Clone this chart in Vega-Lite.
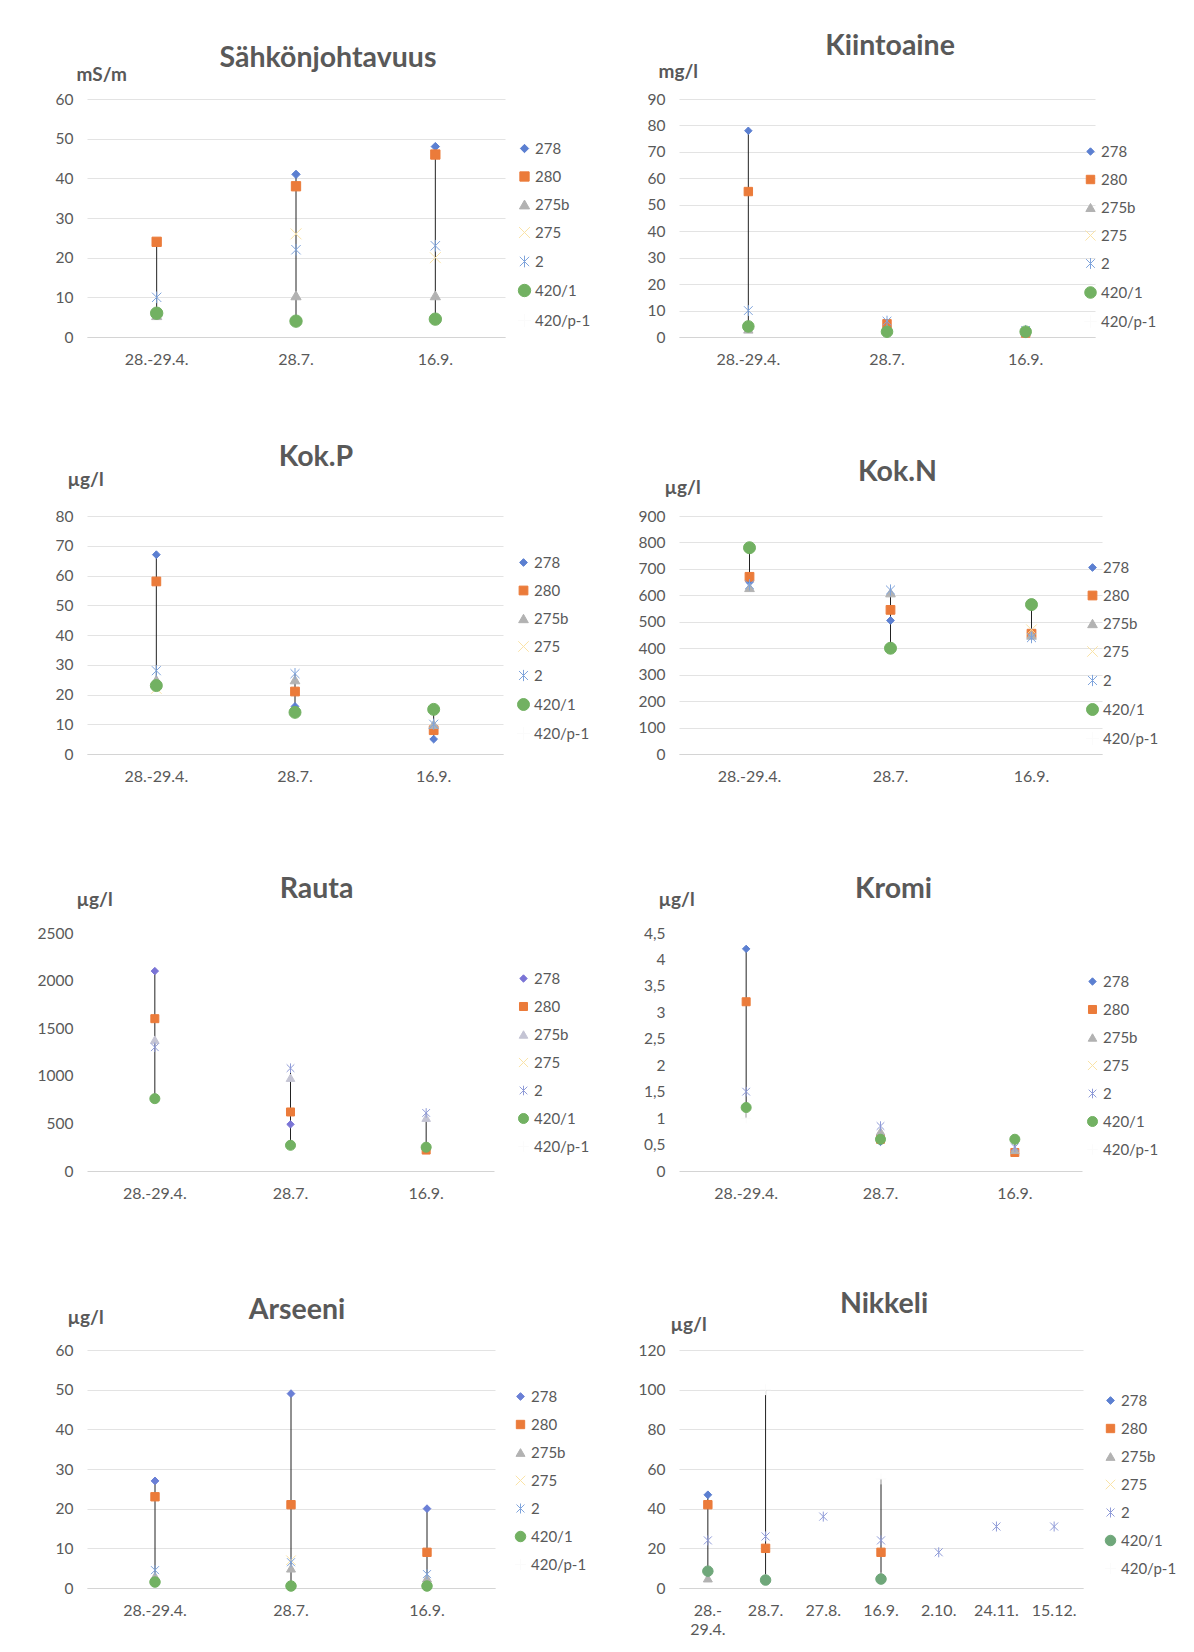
{
"$schema": "https://vega.github.io/schema/vega-lite/v6.json",
"padding": {"left": 37, "top": 31, "right": 5, "bottom": 5},
"datasets": {"d": [
{"p":1,"d":"28.-29.4.","s":"280","v":24},{"p":1,"d":"28.-29.4.","s":"275b","v":5.5},{"p":1,"d":"28.-29.4.","s":"2","v":10},{"p":1,"d":"28.-29.4.","s":"420/1","v":6},
{"p":1,"d":"28.7.","s":"278","v":41},{"p":1,"d":"28.7.","s":"280","v":38},{"p":1,"d":"28.7.","s":"275b","v":10.5},{"p":1,"d":"28.7.","s":"275","v":26},{"p":1,"d":"28.7.","s":"2","v":22},{"p":1,"d":"28.7.","s":"420/1","v":4},
{"p":1,"d":"16.9.","s":"278","v":48},{"p":1,"d":"16.9.","s":"280","v":46},{"p":1,"d":"16.9.","s":"275b","v":10.5},{"p":1,"d":"16.9.","s":"275","v":20},{"p":1,"d":"16.9.","s":"2","v":23},{"p":1,"d":"16.9.","s":"420/1","v":4.5},
{"p":2,"d":"28.-29.4.","s":"278","v":78},{"p":2,"d":"28.-29.4.","s":"280","v":55},{"p":2,"d":"28.-29.4.","s":"275b","v":3},{"p":2,"d":"28.-29.4.","s":"2","v":10},{"p":2,"d":"28.-29.4.","s":"420/1","v":4},
{"p":2,"d":"28.7.","s":"278","v":4},{"p":2,"d":"28.7.","s":"280","v":5},{"p":2,"d":"28.7.","s":"275b","v":3},{"p":2,"d":"28.7.","s":"2","v":6},{"p":2,"d":"28.7.","s":"420/1","v":2},
{"p":2,"d":"16.9.","s":"278","v":1},{"p":2,"d":"16.9.","s":"280","v":1.5},{"p":2,"d":"16.9.","s":"275b","v":2},{"p":2,"d":"16.9.","s":"2","v":2.5},{"p":2,"d":"16.9.","s":"420/1","v":2},
{"p":3,"d":"28.-29.4.","s":"278","v":67},{"p":3,"d":"28.-29.4.","s":"280","v":58},{"p":3,"d":"28.-29.4.","s":"275b","v":25},{"p":3,"d":"28.-29.4.","s":"275","v":22},{"p":3,"d":"28.-29.4.","s":"2","v":28},{"p":3,"d":"28.-29.4.","s":"420/1","v":23},
{"p":3,"d":"28.7.","s":"278","v":16},{"p":3,"d":"28.7.","s":"280","v":21},{"p":3,"d":"28.7.","s":"275b","v":25},{"p":3,"d":"28.7.","s":"2","v":27},{"p":3,"d":"28.7.","s":"420/1","v":14},
{"p":3,"d":"16.9.","s":"278","v":5},{"p":3,"d":"16.9.","s":"280","v":8},{"p":3,"d":"16.9.","s":"275b","v":10},{"p":3,"d":"16.9.","s":"2","v":10},{"p":3,"d":"16.9.","s":"420/1","v":15},
{"p":4,"d":"28.-29.4.","s":"278","v":650},{"p":4,"d":"28.-29.4.","s":"280","v":670},{"p":4,"d":"28.-29.4.","s":"275b","v":630},{"p":4,"d":"28.-29.4.","s":"2","v":640},{"p":4,"d":"28.-29.4.","s":"420/1","v":780},
{"p":4,"d":"28.7.","s":"278","v":505},{"p":4,"d":"28.7.","s":"280","v":545},{"p":4,"d":"28.7.","s":"275b","v":610},{"p":4,"d":"28.7.","s":"2","v":620},{"p":4,"d":"28.7.","s":"420/1","v":400},
{"p":4,"d":"16.9.","s":"278","v":460},{"p":4,"d":"16.9.","s":"280","v":455},{"p":4,"d":"16.9.","s":"275b","v":450},{"p":4,"d":"16.9.","s":"275","v":470},{"p":4,"d":"16.9.","s":"2","v":440},{"p":4,"d":"16.9.","s":"420/1","v":565},
{"p":5,"d":"28.-29.4.","s":"278","v":2100},{"p":5,"d":"28.-29.4.","s":"280","v":1600},{"p":5,"d":"28.-29.4.","s":"275b","v":1380},{"p":5,"d":"28.-29.4.","s":"2","v":1300},{"p":5,"d":"28.-29.4.","s":"420/1","v":760},
{"p":5,"d":"28.7.","s":"278","v":490},{"p":5,"d":"28.7.","s":"280","v":620},{"p":5,"d":"28.7.","s":"275b","v":980},{"p":5,"d":"28.7.","s":"2","v":1080},{"p":5,"d":"28.7.","s":"420/1","v":270},
{"p":5,"d":"16.9.","s":"278","v":240},{"p":5,"d":"16.9.","s":"280","v":220},{"p":5,"d":"16.9.","s":"275b","v":560},{"p":5,"d":"16.9.","s":"2","v":610},{"p":5,"d":"16.9.","s":"420/1","v":250},
{"p":6,"d":"28.-29.4.","s":"278","v":4.2},{"p":6,"d":"28.-29.4.","s":"280","v":3.2},{"p":6,"d":"28.-29.4.","s":"2","v":1.5},{"p":6,"d":"28.-29.4.","s":"420/1","v":1.2},{"p":6,"d":"28.-29.4.","s":"420/p-1","v":1.0},
{"p":6,"d":"28.7.","s":"278","v":0.55},{"p":6,"d":"28.7.","s":"280","v":0.6},{"p":6,"d":"28.7.","s":"275b","v":0.75},{"p":6,"d":"28.7.","s":"2","v":0.85},{"p":6,"d":"28.7.","s":"420/1","v":0.6},
{"p":6,"d":"16.9.","s":"278","v":0.35},{"p":6,"d":"16.9.","s":"280","v":0.35},{"p":6,"d":"16.9.","s":"275b","v":0.4},{"p":6,"d":"16.9.","s":"2","v":0.45},{"p":6,"d":"16.9.","s":"420/1","v":0.6},
{"p":7,"d":"28.-29.4.","s":"278","v":27},{"p":7,"d":"28.-29.4.","s":"280","v":23},{"p":7,"d":"28.-29.4.","s":"275b","v":3},{"p":7,"d":"28.-29.4.","s":"2","v":4.5},{"p":7,"d":"28.-29.4.","s":"420/1","v":1.5},
{"p":7,"d":"28.7.","s":"278","v":49},{"p":7,"d":"28.7.","s":"280","v":21},{"p":7,"d":"28.7.","s":"275b","v":5},{"p":7,"d":"28.7.","s":"275","v":7},{"p":7,"d":"28.7.","s":"2","v":6.5},{"p":7,"d":"28.7.","s":"420/1","v":0.5},
{"p":7,"d":"16.9.","s":"278","v":20},{"p":7,"d":"16.9.","s":"280","v":9},{"p":7,"d":"16.9.","s":"275b","v":2.5},{"p":7,"d":"16.9.","s":"2","v":3.5},{"p":7,"d":"16.9.","s":"420/1","v":0.5},
{"p":8,"d":"28.-29.4.","s":"278","v":47},{"p":8,"d":"28.-29.4.","s":"280","v":42},{"p":8,"d":"28.-29.4.","s":"275b","v":5},{"p":8,"d":"28.-29.4.","s":"2","v":24},{"p":8,"d":"28.-29.4.","s":"420/1","v":8.5},
{"p":8,"d":"28.7.","s":"280","v":20},{"p":8,"d":"28.7.","s":"275b","v":5},{"p":8,"d":"28.7.","s":"2","v":26},{"p":8,"d":"28.7.","s":"420/1","v":4},{"p":8,"d":"28.7.","s":"420/p-1","v":100},
{"p":8,"d":"27.8.","s":"2","v":36},
{"p":8,"d":"16.9.","s":"280","v":18},{"p":8,"d":"16.9.","s":"275b","v":6},{"p":8,"d":"16.9.","s":"2","v":24},{"p":8,"d":"16.9.","s":"420/1","v":4.5},{"p":8,"d":"16.9.","s":"420/p-1","v":55},
{"p":8,"d":"2.10.","s":"2","v":18},
{"p":8,"d":"24.11.","s":"2","v":31},
{"p":8,"d":"15.12.","s":"2","v":31}
]},
"config": {
  "font": "Lato",
  "view": {"stroke": null},
  "axis": {"labelFont": "Lato", "labelColor": "#595959", "labelFontSize": 15.5, "ticks": false, "tickSize": 0, "gridColor": "#e3e3e3", "domain": false},
  "axisX": {"grid": false, "domain": true, "domainColor": "#d4d4d4", "labelPadding": 14, "labelAngle": 0, "labelFontSize": 16},
  "axisY": {"grid": true, "labelPadding": 14, "titleAngle": 0, "titleAlign": "left", "titleBaseline": "middle", "titleFont": "Lato", "titleFontSize": 19, "titleFontWeight": "bold", "titleColor": "#595959"},
  "legend": {"labelFont": "Lato", "labelFontSize": 15, "labelColor": "#595959", "rowPadding": 12, "labelOffset": 3, "symbolStrokeWidth": 1, "padding": 0},
  "title": {"font": "Lato", "fontSize": 28.5, "fontWeight": "bold", "color": "#595959", "anchor": "middle", "frame": "group", "baseline": "middle"}
},
"columns": 2,
"bounds": "flush",
"spacing": {"row": 179, "column": 174},
"resolve": {
  "scale": {"fill": "independent", "stroke": "independent", "shape": "independent", "size": "independent"},
  "legend": {"fill": "independent", "stroke": "independent", "shape": "independent", "size": "independent"}
},
"concat": [
{
 "width": 418, "height": 238,
 "title": {"text": "Sähkönjohtavuus", "dx": 32, "offset": -7},
 "data": {"name": "d"},
 "transform": [{"filter": "datum.p == 1"}],
 "encoding": {
  "x": {"field": "d", "type": "nominal", "scale": {"domain": ["28.-29.4.", "28.7.", "16.9."]}, "axis": {"title": null}},
  "y": {"field": "v", "type": "quantitative", "scale": {"domain": [0, 60], "nice": false}, "axis": {"title": "mS/m", "titleX": -11, "titleY": -25, "values": [0, 10, 20, 30, 40, 50, 60]}}
 },
 "layer": [
  {"transform": [{"aggregate": [{"op": "min", "field": "v", "as": "v"}, {"op": "max", "field": "v", "as": "hi"}], "groupby": ["d"]}],
   "mark": {"type": "rule", "color": "#222222", "strokeWidth": 1}, "encoding": {"y2": {"field": "hi"}}},
  {"mark": {"type": "point", "filled": true, "opacity": 1, "strokeWidth": 1},
   "encoding": {
    "fill": {"field": "s", "type": "nominal", "scale": {"domain": ["278","280","275b","275","2","420/1","420/p-1"], "range": ["#5B7FD1","#EB7B3A","#B2B2B2","#FAE3A6","#7FA4DC","#72B162","#FBFBFB"]}, "legend": {"orient": "none", "legendX": 430, "legendY": 42, "title": null}},
    "stroke": {"field": "s", "type": "nominal", "scale": {"domain": ["278","280","275b","275","2","420/1","420/p-1"], "range": ["#5B7FD1","#EB7B3A","#B2B2B2","#FAE3A6","#7FA4DC","#72B162","#FBFBFB"]}, "legend": {"orient": "none", "legendX": 430, "legendY": 42, "title": null}},
    "shape": {"field": "s", "type": "nominal", "scale": {"domain": ["278","280","275b","275","2","420/1","420/p-1"], "range": ["diamond","square","triangle-up","M-1,-1L1,1M-1,1L1,-1","M0,-1L0,1M-0.8,-0.8L0.8,0.8M-0.8,0.8L0.8,-0.8","circle","M-1,0L1,0M0,-1L0,1"]}, "legend": {"orient": "none", "legendX": 430, "legendY": 42, "title": null}},
    "size": {"field": "s", "type": "nominal", "scale": {"domain": ["278","280","275b","275","2","420/1","420/p-1"], "range": [70,170,90,60,110,135,60]}, "legend": {"orient": "none", "legendX": 430, "legendY": 42, "title": null}}
   }}
 ]
},
{
 "width": 416, "height": 238,
 "title": {"text": "Kiintoaine", "dx": 3, "offset": 2},
 "data": {"name": "d"},
 "transform": [{"filter": "datum.p == 2"}],
 "encoding": {
  "x": {"field": "d", "type": "nominal", "scale": {"domain": ["28.-29.4.", "28.7.", "16.9."]}, "axis": {"title": null}},
  "y": {"field": "v", "type": "quantitative", "scale": {"domain": [0, 90], "nice": false}, "axis": {"title": "mg/l", "titleX": -21, "titleY": -28, "values": [0, 10, 20, 30, 40, 50, 60, 70, 80, 90]}}
 },
 "layer": [
  {"transform": [{"aggregate": [{"op": "min", "field": "v", "as": "v"}, {"op": "max", "field": "v", "as": "hi"}], "groupby": ["d"]}],
   "mark": {"type": "rule", "color": "#222222", "strokeWidth": 1}, "encoding": {"y2": {"field": "hi"}}},
  {"mark": {"type": "point", "filled": true, "opacity": 1, "strokeWidth": 1},
   "encoding": {
    "fill": {"field": "s", "type": "nominal", "scale": {"domain": ["278","280","275b","275","2","420/1","420/p-1"], "range": ["#5B7FD1","#EB7B3A","#B2B2B2","#FAE3A6","#7FA4DC","#72B162","#FBFBFB"]}, "legend": {"orient": "none", "legendX": 404, "legendY": 45, "title": null}},
    "stroke": {"field": "s", "type": "nominal", "scale": {"domain": ["278","280","275b","275","2","420/1","420/p-1"], "range": ["#5B7FD1","#EB7B3A","#B2B2B2","#FAE3A6","#7FA4DC","#72B162","#FBFBFB"]}, "legend": {"orient": "none", "legendX": 404, "legendY": 45, "title": null}},
    "shape": {"field": "s", "type": "nominal", "scale": {"domain": ["278","280","275b","275","2","420/1","420/p-1"], "range": ["diamond","square","triangle-up","M-1,-1L1,1M-1,1L1,-1","M0,-1L0,1M-0.8,-0.8L0.8,0.8M-0.8,0.8L0.8,-0.8","circle","M-1,0L1,0M0,-1L0,1"]}, "legend": {"orient": "none", "legendX": 404, "legendY": 45, "title": null}},
    "size": {"field": "s", "type": "nominal", "scale": {"domain": ["278","280","275b","275","2","420/1","420/p-1"], "range": [55,150,80,60,100,130,60]}, "legend": {"orient": "none", "legendX": 404, "legendY": 45, "title": null}}
   }}
 ]
},
{
 "width": 416, "height": 238,
 "title": {"text": "Kok.P", "dx": 21, "offset": -1},
 "data": {"name": "d"},
 "transform": [{"filter": "datum.p == 3"}],
 "encoding": {
  "x": {"field": "d", "type": "nominal", "scale": {"domain": ["28.-29.4.", "28.7.", "16.9."]}, "axis": {"title": null}},
  "y": {"field": "v", "type": "quantitative", "scale": {"domain": [0, 80], "nice": false}, "axis": {"title": "µg/l", "titleX": -20, "titleY": -37, "values": [0, 10, 20, 30, 40, 50, 60, 70, 80]}}
 },
 "layer": [
  {"transform": [{"aggregate": [{"op": "min", "field": "v", "as": "v"}, {"op": "max", "field": "v", "as": "hi"}], "groupby": ["d"]}],
   "mark": {"type": "rule", "color": "#222222", "strokeWidth": 1}, "encoding": {"y2": {"field": "hi"}}},
  {"mark": {"type": "point", "filled": true, "opacity": 1, "strokeWidth": 1},
   "encoding": {
    "fill": {"field": "s", "type": "nominal", "scale": {"domain": ["278","280","275b","275","2","420/1","420/p-1"], "range": ["#5B7FD1","#EB7B3A","#B2B2B2","#FAE3A6","#7FA4DC","#72B162","#FBFBFB"]}, "legend": {"orient": "none", "legendX": 429, "legendY": 39, "title": null}},
    "stroke": {"field": "s", "type": "nominal", "scale": {"domain": ["278","280","275b","275","2","420/1","420/p-1"], "range": ["#5B7FD1","#EB7B3A","#B2B2B2","#FAE3A6","#7FA4DC","#72B162","#FBFBFB"]}, "legend": {"orient": "none", "legendX": 429, "legendY": 39, "title": null}},
    "shape": {"field": "s", "type": "nominal", "scale": {"domain": ["278","280","275b","275","2","420/1","420/p-1"], "range": ["diamond","square","triangle-up","M-1,-1L1,1M-1,1L1,-1","M0,-1L0,1M-0.8,-0.8L0.8,0.8M-0.8,0.8L0.8,-0.8","circle","M-1,0L1,0M0,-1L0,1"]}, "legend": {"orient": "none", "legendX": 429, "legendY": 39, "title": null}},
    "size": {"field": "s", "type": "nominal", "scale": {"domain": ["278","280","275b","275","2","420/1","420/p-1"], "range": [60,160,85,60,110,135,60]}, "legend": {"orient": "none", "legendX": 429, "legendY": 39, "title": null}}
   }}
 ]
},
{
 "width": 423, "height": 238,
 "title": {"text": "Kok.N", "dx": 7, "offset": -8},
 "data": {"name": "d"},
 "transform": [{"filter": "datum.p == 4"}],
 "encoding": {
  "x": {"field": "d", "type": "nominal", "scale": {"domain": ["28.-29.4.", "28.7.", "16.9."]}, "axis": {"title": null}},
  "y": {"field": "v", "type": "quantitative", "scale": {"domain": [0, 900], "nice": false}, "axis": {"title": "µg/l", "titleX": -15, "titleY": -29, "values": [0, 100, 200, 300, 400, 500, 600, 700, 800, 900]}}
 },
 "layer": [
  {"transform": [{"aggregate": [{"op": "min", "field": "v", "as": "v"}, {"op": "max", "field": "v", "as": "hi"}], "groupby": ["d"]}],
   "mark": {"type": "rule", "color": "#222222", "strokeWidth": 1}, "encoding": {"y2": {"field": "hi"}}},
  {"mark": {"type": "point", "filled": true, "opacity": 1, "strokeWidth": 1},
   "encoding": {
    "fill": {"field": "s", "type": "nominal", "scale": {"domain": ["278","280","275b","275","2","420/1","420/p-1"], "range": ["#5B7FD1","#EB7B3A","#B2B2B2","#FAE3A6","#7FA4DC","#72B162","#FBFBFB"]}, "legend": {"orient": "none", "legendX": 406, "legendY": 44, "title": null}},
    "stroke": {"field": "s", "type": "nominal", "scale": {"domain": ["278","280","275b","275","2","420/1","420/p-1"], "range": ["#5B7FD1","#EB7B3A","#B2B2B2","#FAE3A6","#7FA4DC","#72B162","#FBFBFB"]}, "legend": {"orient": "none", "legendX": 406, "legendY": 44, "title": null}},
    "shape": {"field": "s", "type": "nominal", "scale": {"domain": ["278","280","275b","275","2","420/1","420/p-1"], "range": ["diamond","square","triangle-up","M-1,-1L1,1M-1,1L1,-1","M0,-1L0,1M-0.8,-0.8L0.8,0.8M-0.8,0.8L0.8,-0.8","circle","M-1,0L1,0M0,-1L0,1"]}, "legend": {"orient": "none", "legendX": 406, "legendY": 44, "title": null}},
    "size": {"field": "s", "type": "nominal", "scale": {"domain": ["278","280","275b","275","2","420/1","420/p-1"], "range": [60,160,85,60,110,135,60]}, "legend": {"orient": "none", "legendX": 406, "legendY": 44, "title": null}}
   }}
 ]
},
{
 "width": 407, "height": 238,
 "title": {"text": "Rauta", "dx": 26, "offset": -13},
 "data": {"name": "d"},
 "transform": [{"filter": "datum.p == 5"}],
 "encoding": {
  "x": {"field": "d", "type": "nominal", "scale": {"domain": ["28.-29.4.", "28.7.", "16.9."]}, "axis": {"title": null}},
  "y": {"field": "v", "type": "quantitative", "scale": {"domain": [0, 2500], "nice": false}, "axis": {"title": "µg/l", "titleX": -11, "titleY": -34, "values": [0, 500, 1000, 1500, 2000, 2500], "format": "d", "grid": false}}
 },
 "layer": [
  {"transform": [{"aggregate": [{"op": "min", "field": "v", "as": "v"}, {"op": "max", "field": "v", "as": "hi"}], "groupby": ["d"]}],
   "mark": {"type": "rule", "color": "#222222", "strokeWidth": 1}, "encoding": {"y2": {"field": "hi"}}},
  {"mark": {"type": "point", "filled": true, "opacity": 1, "strokeWidth": 1},
   "encoding": {
    "fill": {"field": "s", "type": "nominal", "scale": {"domain": ["278","280","275b","275","2","420/1","420/p-1"], "range": ["#7A74D6","#EB7B3A","#C4C4D4","#FAE3A6","#8F9BD8","#72B162","#FBFBFB"]}, "legend": {"orient": "none", "legendX": 429, "legendY": 38, "title": null}},
    "stroke": {"field": "s", "type": "nominal", "scale": {"domain": ["278","280","275b","275","2","420/1","420/p-1"], "range": ["#7A74D6","#EB7B3A","#C4C4D4","#FAE3A6","#8F9BD8","#72B162","#FBFBFB"]}, "legend": {"orient": "none", "legendX": 429, "legendY": 38, "title": null}},
    "shape": {"field": "s", "type": "nominal", "scale": {"domain": ["278","280","275b","275","2","420/1","420/p-1"], "range": ["diamond","square","triangle-up","M-1,-1L1,1M-1,1L1,-1","M0,-1L0,1M-0.8,-0.8L0.8,0.8M-0.8,0.8L0.8,-0.8","circle","M-1,0L1,0M0,-1L0,1"]}, "legend": {"orient": "none", "legendX": 429, "legendY": 38, "title": null}},
    "size": {"field": "s", "type": "nominal", "scale": {"domain": ["278","280","275b","275","2","420/1","420/p-1"], "range": [55,110,60,55,80,95,60]}, "legend": {"orient": "none", "legendX": 429, "legendY": 38, "title": null}}
   }}
 ]
},
{
 "width": 403, "height": 238,
 "title": {"text": "Kromi", "dx": 13, "offset": -13},
 "data": {"name": "d"},
 "transform": [{"filter": "datum.p == 6"}],
 "encoding": {
  "x": {"field": "d", "type": "nominal", "scale": {"domain": ["28.-29.4.", "28.7.", "16.9."]}, "axis": {"title": null}},
  "y": {"field": "v", "type": "quantitative", "scale": {"domain": [0, 4.5], "nice": false}, "axis": {"title": "µg/l", "titleX": -21, "titleY": -34, "values": [0, 0.5, 1, 1.5, 2, 2.5, 3, 3.5, 4, 4.5], "format": "~g", "labelExpr": "replace(datum.label, '.', ',')", "grid": false}}
 },
 "layer": [
  {"transform": [{"aggregate": [{"op": "min", "field": "v", "as": "v"}, {"op": "max", "field": "v", "as": "hi"}], "groupby": ["d"]}],
   "mark": {"type": "rule", "color": "#222222", "strokeWidth": 1}, "encoding": {"y2": {"field": "hi"}}},
  {"mark": {"type": "point", "filled": true, "opacity": 1, "strokeWidth": 1},
   "encoding": {
    "fill": {"field": "s", "type": "nominal", "scale": {"domain": ["278","280","275b","275","2","420/1","420/p-1"], "range": ["#5B7FD1","#EB7B3A","#B2B2B2","#FAE3A6","#8F9BD8","#72B162","#FBFBFB"]}, "legend": {"orient": "none", "legendX": 406, "legendY": 41, "title": null}},
    "stroke": {"field": "s", "type": "nominal", "scale": {"domain": ["278","280","275b","275","2","420/1","420/p-1"], "range": ["#5B7FD1","#EB7B3A","#B2B2B2","#FAE3A6","#8F9BD8","#72B162","#FBFBFB"]}, "legend": {"orient": "none", "legendX": 406, "legendY": 41, "title": null}},
    "shape": {"field": "s", "type": "nominal", "scale": {"domain": ["278","280","275b","275","2","420/1","420/p-1"], "range": ["diamond","square","triangle-up","M-1,-1L1,1M-1,1L1,-1","M0,-1L0,1M-0.8,-0.8L0.8,0.8M-0.8,0.8L0.8,-0.8","circle","M-1,0L1,0M0,-1L0,1"]}, "legend": {"orient": "none", "legendX": 406, "legendY": 41, "title": null}},
    "size": {"field": "s", "type": "nominal", "scale": {"domain": ["278","280","275b","275","2","420/1","420/p-1"], "range": [55,110,60,55,80,95,60]}, "legend": {"orient": "none", "legendX": 406, "legendY": 41, "title": null}}
   }}
 ]
},
{
 "width": 408, "height": 238,
 "title": {"text": "Arseeni", "dx": 6, "offset": -16},
 "data": {"name": "d"},
 "transform": [{"filter": "datum.p == 7"}],
 "encoding": {
  "x": {"field": "d", "type": "nominal", "scale": {"domain": ["28.-29.4.", "28.7.", "16.9."]}, "axis": {"title": null}},
  "y": {"field": "v", "type": "quantitative", "scale": {"domain": [0, 60], "nice": false}, "axis": {"title": "µg/l", "titleX": -20, "titleY": -33, "values": [0, 10, 20, 30, 40, 50, 60]}}
 },
 "layer": [
  {"transform": [{"aggregate": [{"op": "min", "field": "v", "as": "v"}, {"op": "max", "field": "v", "as": "hi"}], "groupby": ["d"]}],
   "mark": {"type": "rule", "color": "#222222", "strokeWidth": 1}, "encoding": {"y2": {"field": "hi"}}},
  {"mark": {"type": "point", "filled": true, "opacity": 1, "strokeWidth": 1},
   "encoding": {
    "fill": {"field": "s", "type": "nominal", "scale": {"domain": ["278","280","275b","275","2","420/1","420/p-1"], "range": ["#6A7FD6","#EB7B3A","#B2B2B2","#FAE3A6","#7FA4DC","#72B162","#FBFBFB"]}, "legend": {"orient": "none", "legendX": 426, "legendY": 39, "title": null}},
    "stroke": {"field": "s", "type": "nominal", "scale": {"domain": ["278","280","275b","275","2","420/1","420/p-1"], "range": ["#6A7FD6","#EB7B3A","#B2B2B2","#FAE3A6","#7FA4DC","#72B162","#FBFBFB"]}, "legend": {"orient": "none", "legendX": 426, "legendY": 39, "title": null}},
    "shape": {"field": "s", "type": "nominal", "scale": {"domain": ["278","280","275b","275","2","420/1","420/p-1"], "range": ["diamond","square","triangle-up","M-1,-1L1,1M-1,1L1,-1","M0,-1L0,1M-0.8,-0.8L0.8,0.8M-0.8,0.8L0.8,-0.8","circle","M-1,0L1,0M0,-1L0,1"]}, "legend": {"orient": "none", "legendX": 426, "legendY": 39, "title": null}},
    "size": {"field": "s", "type": "nominal", "scale": {"domain": ["278","280","275b","275","2","420/1","420/p-1"], "range": [60,120,60,55,85,95,60]}, "legend": {"orient": "none", "legendX": 426, "legendY": 39, "title": null}}
   }}
 ]
},
{
 "width": 404, "height": 238,
 "title": {"text": "Nikkeli", "dx": 3, "offset": -3},
 "data": {"name": "d"},
 "transform": [{"filter": "datum.p == 8"}],
 "encoding": {
  "x": {"field": "d", "type": "nominal", "scale": {"domain": ["28.-29.4.", "28.7.", "27.8.", "16.9.", "2.10.", "24.11.", "15.12."]}, "axis": {"title": null, "labelExpr": "datum.label == '28.-29.4.' ? ['28.-', '29.4.'] : datum.label", "labelLineHeight": 19}},
  "y": {"field": "v", "type": "quantitative", "scale": {"domain": [0, 120], "nice": false}, "axis": {"title": "µg/l", "titleX": -9, "titleY": -26, "values": [0, 20, 40, 60, 80, 100, 120]}}
 },
 "layer": [
  {"transform": [{"aggregate": [{"op": "min", "field": "v", "as": "v"}, {"op": "max", "field": "v", "as": "hi"}], "groupby": ["d"]}],
   "mark": {"type": "rule", "color": "#222222", "strokeWidth": 1}, "encoding": {"y2": {"field": "hi"}}},
  {"mark": {"type": "point", "filled": true, "opacity": 1, "strokeWidth": 1},
   "encoding": {
    "fill": {"field": "s", "type": "nominal", "scale": {"domain": ["278","280","275b","275","2","420/1","420/p-1"], "range": ["#5B7FD1","#EB7B3A","#B2B2B2","#FAE3A6","#8F9BD8","#6FA77A","#FBFBFB"]}, "legend": {"orient": "none", "legendX": 424, "legendY": 43, "title": null}},
    "stroke": {"field": "s", "type": "nominal", "scale": {"domain": ["278","280","275b","275","2","420/1","420/p-1"], "range": ["#5B7FD1","#EB7B3A","#B2B2B2","#FAE3A6","#8F9BD8","#6FA77A","#FBFBFB"]}, "legend": {"orient": "none", "legendX": 424, "legendY": 43, "title": null}},
    "shape": {"field": "s", "type": "nominal", "scale": {"domain": ["278","280","275b","275","2","420/1","420/p-1"], "range": ["diamond","square","triangle-up","M-1,-1L1,1M-1,1L1,-1","M0,-1L0,1M-0.8,-0.8L0.8,0.8M-0.8,0.8L0.8,-0.8","circle","M-1,0L1,0M0,-1L0,1"]}, "legend": {"orient": "none", "legendX": 424, "legendY": 43, "title": null}},
    "size": {"field": "s", "type": "nominal", "scale": {"domain": ["278","280","275b","275","2","420/1","420/p-1"], "range": [60,120,60,55,85,95,60]}, "legend": {"orient": "none", "legendX": 424, "legendY": 43, "title": null}}
   }}
 ]
}
]
}
